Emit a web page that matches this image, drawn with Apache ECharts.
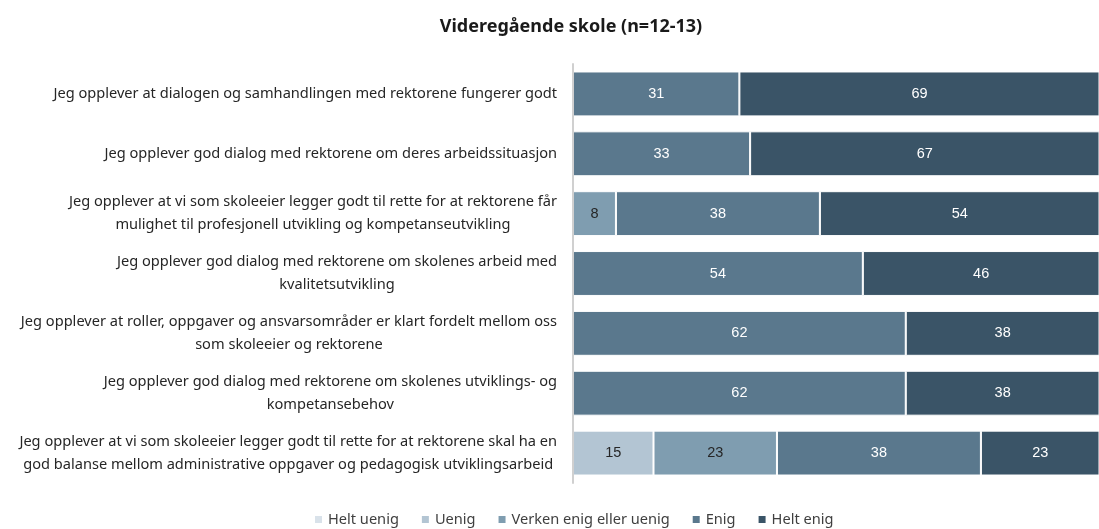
<!DOCTYPE html>
<html>
<head>
<meta charset="utf-8">
<script src="https://cdn.jsdelivr.net/npm/echarts@6/dist/echarts.min.js"></script>
<style>
html,body{margin:0;padding:0;background:#fff;}
#chart{width:1099px;height:529px;}
</style>
</head>
<body>
<div id="chart"></div>
<script>
// kategorier (ovenfra og ned)
var categories = [
    'Jeg opplever at dialogen og samhandlingen med rektorene fungerer godt',
    'Jeg opplever god dialog med rektorene om deres arbeidssituasjon',
    'Jeg opplever at vi som skoleeier legger godt til rette for at rektorene får\nmulighet til profesjonell utvikling og kompetanseutvikling',
    'Jeg opplever god dialog med rektorene om skolenes arbeid med\nkvalitetsutvikling',
    'Jeg opplever at roller, oppgaver og ansvarsområder er klart fordelt mellom oss\nsom skoleeier og rektorene',
    'Jeg opplever god dialog med rektorene om skolenes utviklings- og\nkompetansebehov',
    'Jeg opplever at vi som skoleeier legger godt til rette for at rektorene skal ha en\ngod balanse mellom administrative oppgaver og pedagogisk utviklingsarbeid'
];
var seriesNames = ['Helt uenig', 'Uenig', 'Verken enig eller uenig', 'Enig', 'Helt enig'];
var heltUenig = [0, 0, 0, 0, 0, 0, 0];
var uenig = [0, 0, 0, 0, 0, 0, 15];
var verken = [0, 0, 8, 0, 0, 0, 23];
var enig = [31, 33, 38, 54, 62, 62, 38];
var heltEnig = [69, 67, 54, 46, 38, 38, 23];

var colors = ['#d9e2ea', '#b3c5d3', '#7f9db0', '#5a788d', '#3a5467'];
var labelColors = ['#262626', '#262626', '#262626', '#ffffff', '#ffffff'];
var values = [heltUenig, uenig, verken, enig, heltEnig];

var chart = echarts.init(document.getElementById('chart'));

var series = seriesNames.map(function (name, i) {
    return {
        name: name,
        type: 'bar',
        stack: 'total',
        barCategoryGap: '25%',
        data: values[i],
        itemStyle: {
            color: colors[i],
            borderColor: '#ffffff',
            borderWidth: 1
        },
        label: {
            show: true,
            position: 'inside',
            color: labelColors[i],
            fontFamily: 'Liberation Sans',
            fontSize: 14.5,
            formatter: function (p) { return p.value ? p.value : ''; }
        }
    };
});

var option = {
    animation: false,
    title: {
        text: 'Videregående skole (n=12-13)',
        left: 566,
        textAlign: 'center',
        top: 13,
        textStyle: {
            fontFamily: 'Noto Sans',
            fontWeight: 'bold',
            fontSize: 18,
            color: '#1a1a1a'
        }
    },
    legend: {
        top: 512,
        left: 313,
        padding: 0,
        itemWidth: 9,
        itemHeight: 9,
        itemGap: 21,
        icon: 'rect',
        textStyle: {
            fontFamily: 'Noto Sans',
            fontSize: 14.6,
            color: '#404040'
        },
        data: seriesNames
    },
    grid: {
        left: 573,
        top: 64,
        right: 0,
        height: 419,
        containLabel: false
    },
    xAxis: {
        type: 'value',
        min: 0,
        max: 98,
        show: false
    },
    yAxis: {
        type: 'category',
        inverse: true,
        z: 5,
        data: categories,
        axisLine: { show: true, lineStyle: { color: '#d0d0d0', width: 2 } },
        axisTick: { show: false },
        axisLabel: {
            margin: 16,
            formatter: function (v) {
                return v.split('\n').map(function (s) { return '{c|' + s + '}'; }).join('\n');
            },
            rich: {
                c: {
                    align: 'center',
                    fontFamily: 'Noto Sans',
                    fontSize: 14.6,
                    lineHeight: 23,
                    color: '#262626'
                }
            }
        }
    },
    series: series
};

chart.setOption(option);
</script>
</body>
</html>
